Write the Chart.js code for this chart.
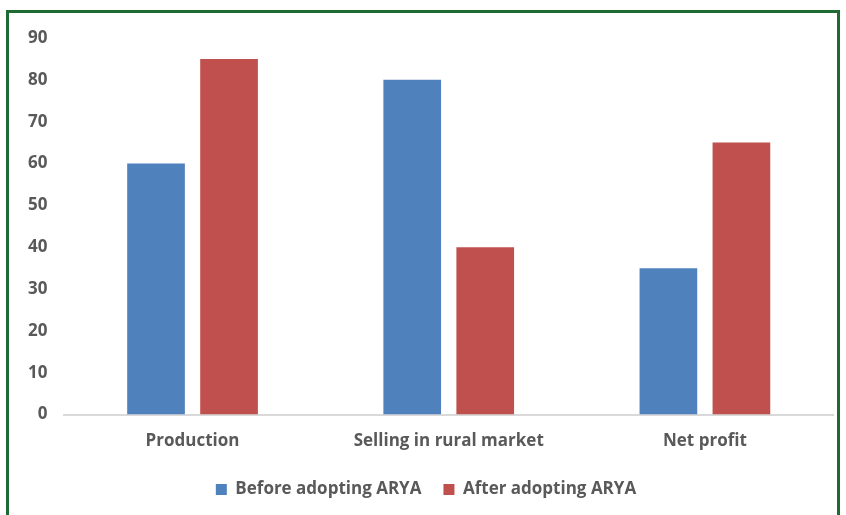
<!DOCTYPE html>
<html lang="en">

<head>
    <meta charset="UTF-8">
    <title>ARYA</title>
    <style>
        body {
            margin: 0;
            padding: 0;
            background: #ffffff;
        }

        #frame {
            position: absolute;
            left: 6px;
            top: 10px;
            width: 834px;
            height: 520px;
            border: 3px solid #1d6b33;
            box-sizing: border-box;
            background: #ffffff;
        }

        #box {
            position: absolute;
            left: 0;
            top: 0;
            width: 828px;
            height: 497px;
        }
    </style>
</head>

<body>
    <div id="frame">
        <div id="box"><canvas id="chart"></canvas></div>
    </div>

    <script src="https://cdn.jsdelivr.net/npm/chart.js@4.4.0/dist/chart.umd.min.js"></script>
    <script>
        const categories = ['Production', 'Selling in rural market', 'Net profit'];
        const beforeValues = [60, 80, 35];
        const afterValues = [85, 40, 65];
        const yTicks = [0, 10, 20, 30, 40, 50, 60, 70, 80, 90];

        Chart.defaults.font.family = '"Open Sans", Lato, sans-serif';
        Chart.defaults.font.weight = 'bold';
        Chart.defaults.color = '#595959';

        new Chart(document.getElementById('chart'), {
            type: 'bar',
            data: {
                labels: categories,
                datasets: [
                    {
                        label: 'Before adopting ARYA',
                        data: beforeValues,
                        backgroundColor: '#4f81bd',
                        categoryPercentage: 0.57,
                        barPercentage: 0.79
                    },
                    {
                        label: 'After adopting ARYA',
                        data: afterValues,
                        backgroundColor: '#c0504d',
                        categoryPercentage: 0.57,
                        barPercentage: 0.79
                    }
                ]
            },
            options: {
                responsive: true,
                maintainAspectRatio: false,
                animation: false,
                layout: {
                    padding: { left: 10, right: 4, top: 25, bottom: 2 }
                },
                plugins: {
                    legend: {
                        position: 'bottom',
                        labels: {
                            boxWidth: 11,
                            boxHeight: 11,
                            padding: 22,
                            font: { size: 17 }
                        }
                    },
                    tooltip: { enabled: false }
                },
                scales: {
                    x: {
                        grid: { display: false },
                        border: { color: '#d9d9d9', width: 2 },
                        ticks: { font: { size: 17 }, padding: 8 }
                    },
                    y: {
                        min: 0,
                        max: 90,
                        afterBuildTicks: axis => {
                            axis.ticks = yTicks.map(v => ({ value: v }));
                        },
                        grid: { display: false },
                        border: { display: false },
                        ticks: { font: { size: 17 }, padding: 9 }
                    }
                }
            }
        });
    </script>
</body>

</html>
